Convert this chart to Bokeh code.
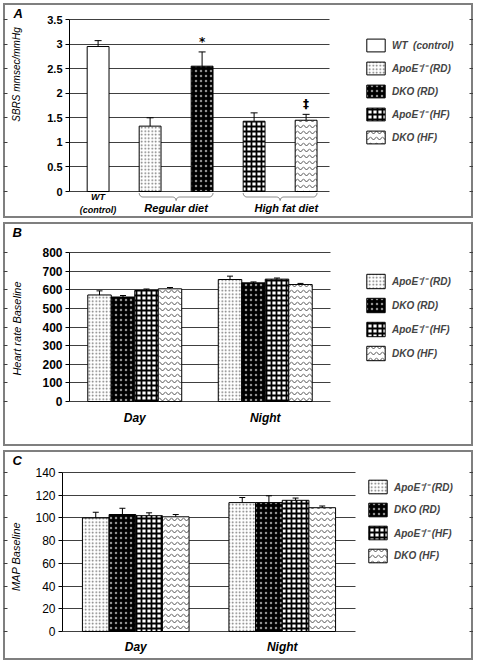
import numpy as np
from bokeh.plotting import figure
from bokeh.models import (ColumnDataSource, Range1d, Whisker, TeeHead, BoxAnnotation,
                          Legend, LegendItem, Label, PolyAnnotation, NumeralTickFormatter, FixedTicker)
from bokeh.layouts import column
from bokeh.embed import file_html
from bokeh.resources import INLINE

FONT = "Liberation Sans"

# ---------------- data ----------------
# Panel A : SBRS
a_keys = ["WT", "ApoE_RD", "DKO_RD", "ApoE_HF", "DKO_HF"]
a_legend = ["WT  (control)", "ApoE\u207b/\u207b (RD)", "DKO (RD)", "ApoE\u207b/\u207b (HF)", "DKO (HF)"]
a_values = [2.95, 1.33, 2.55, 1.43, 1.45]
a_errors = [0.12, 0.17, 0.29, 0.17, 0.12]
a_ticks = [0, 0.5, 1, 1.5, 2, 2.5, 3, 3.5]
a_marks = ["", "", "*", "", "\u2021"]
a_groups = {"Regular diet": [1, 2], "High fat diet": [3, 4]}

# Panels B, C
periods = ["Day", "Night"]
bc_keys = ["ApoE_RD", "DKO_RD", "ApoE_HF", "DKO_HF"]
bc_legend = ["ApoE\u207b/\u207b (RD)", "DKO (RD)", "ApoE\u207b/\u207b (HF)", "DKO (HF)"]

hr_values = {"ApoE_RD": [572, 655], "DKO_RD": [561, 637], "ApoE_HF": [596, 657], "DKO_HF": [605, 628]}
hr_errors = {"ApoE_RD": [22, 18], "DKO_RD": [8, 5], "ApoE_HF": [8, 6], "DKO_HF": [7, 6]}
hr_ticks = [0, 100, 200, 300, 400, 500, 600, 700, 800]

map_values = {"ApoE_RD": [100, 113.5], "DKO_RD": [103, 113.5], "ApoE_HF": [102, 115.5], "DKO_HF": [101, 109]}
map_errors = {"ApoE_RD": [5, 4.5], "DKO_RD": [5.5, 6], "ApoE_HF": [2.5, 2], "DKO_HF": [2, 1.5]}
map_ticks = [0, 20, 40, 60, 80, 100, 120, 140]

# ---------------- styles ----------------
STYLE = {
    "WT": dict(fill_color="white"),
    "ApoE_RD": dict(fill_color="white", hatch_pattern="dot", hatch_color="#707070", hatch_scale=3.5, hatch_weight=0.8),
    "DKO_RD": dict(fill_color="black", hatch_pattern="dot", hatch_color="#909090", hatch_scale=5, hatch_weight=0.4),
    "ApoE_HF": dict(fill_color="white", hatch_pattern="cross", hatch_color="black", hatch_scale=5, hatch_weight=1.8),
    "DKO_HF": dict(fill_color="white", hatch_pattern="horizontal_wave", hatch_color="#505050", hatch_scale=6, hatch_weight=1),
}
GRID = "#404040"
PANEL_W = 470


class Geo:
    """pixel <-> data mapping for a panel whose frame covers the whole panel"""

    def __init__(self, H, axis_px, data_px, n_units, x0, top_px, zero_px, ymax):
        self.kx = n_units / data_px
        self.ky = ymax / (zero_px - top_px)
        self.x_start = x0 - axis_px * self.kx
        self.x_end = self.x_start + PANEL_W * self.kx
        self.y_start = -(H - zero_px) * self.ky
        self.y_end = ymax + top_px * self.ky
        self.x0, self.n, self.ymax, self.H = x0, n_units, ymax, H

    def X(self, px):
        return self.x_start + px * self.kx

    def Y(self, py):
        return self.y_end - py * self.ky


def base_figure(g, ticks, size, weight):
    p = figure(width=PANEL_W, height=g.H, x_range=Range1d(g.x_start, g.x_end),
               y_range=Range1d(g.y_start, g.y_end), output_backend="svg", toolbar_location=None,
               min_border_left=0, min_border_right=0, min_border_top=0, min_border_bottom=0)
    p.outline_line_color = "#7f7f7f"
    p.outline_line_width = 3
    ax = p.yaxis[0]
    ax.fixed_location = g.x0
    ax.bounds = (0, g.ymax)
    ax.ticker = ticks
    ax.major_label_text_font = FONT
    ax.major_label_text_font_size = size
    ax.major_label_text_font_style = weight
    ax.major_label_text_color = "black"
    ax.axis_line_color = "black"
    ax.major_tick_line_color = "black"
    ax.major_tick_out = 4
    ax.major_tick_in = 0
    ax.minor_tick_line_color = None
    ax.major_label_standoff = 3
    p.ygrid.ticker = ticks
    p.ygrid.grid_line_color = GRID
    p.xgrid.grid_line_color = None
    # keep the grid inside the data area
    pad = 4 * g.kx
    yb = 0.02 * g.ymax
    p.add_layout(BoxAnnotation(left=g.x_start + pad, right=g.x0, bottom=-yb, top=g.ymax + yb,
                               fill_color="white", fill_alpha=1, line_alpha=0, level="underlay"))
    p.add_layout(BoxAnnotation(left=g.x0 + g.n, right=g.x_end - pad, bottom=-yb, top=g.ymax + yb,
                               fill_color="white", fill_alpha=1, line_alpha=0, level="underlay"))
    return p


def make_legend(items, loc, gh, spacing):
    return Legend(items=items, location=loc, glyph_width=23, glyph_height=gh, spacing=spacing,
                  label_standoff=5, padding=0, margin=0, border_line_color=None,
                  background_fill_alpha=0, label_text_font=FONT, label_text_font_style="bold italic",
                  label_text_font_size="10px", label_height=gh)


def text(p, x, y, s, size, style, align="center", angle=0.0, baseline="middle", font=FONT):
    p.add_layout(Label(x=x, y=y, text=s, text_align=align, text_baseline=baseline, angle=angle,
                       text_font=font, text_font_size=size, text_font_style=style, text_color="black"))


# ---------------- Panel A ----------------
a_n = len(a_keys)
gA = Geo(H=215, axis_px=66, data_px=260, n_units=a_n, x0=-0.05, top_px=16, zero_px=188, ymax=3.5)
pA = base_figure(gA, a_ticks, "11px", "bold")
pA.xaxis.visible = False
pA.yaxis.formatter = NumeralTickFormatter(format="0.[0]")

a_x = np.arange(a_n) + 0.5
itemsA = []
for i, k in enumerate(a_keys):
    src = ColumnDataSource(dict(x=[a_x[i]], top=[a_values[i]],
                                upper=[a_values[i] + a_errors[i]], lower=[a_values[i] - a_errors[i]]))
    r = pA.vbar(x="x", top="top", width=0.42, source=src, line_color="black", line_width=1, **STYLE[k])
    pA.add_layout(Whisker(source=src, base="x", upper="upper", lower="lower", line_color="black",
                          upper_head=TeeHead(size=7, line_color="black"),
                          lower_head=TeeHead(size=7, line_color="black")))
    itemsA.append(LegendItem(label=a_legend[i], renderers=[r]))
    if a_marks[i]:
        text(pA, a_x[i], a_values[i] + a_errors[i] + 0.06, a_marks[i], "12px", "bold",
             baseline="bottom", font="DejaVu Sans")

pA.add_layout(make_legend(itemsA, (361, 73), 16, 7))

text(pA, a_x[0], gA.Y(193), "WT", "9px", "bold italic")
text(pA, a_x[0], gA.Y(206.5), "(control)", "9px", "bold italic")
for name, idx in a_groups.items():
    cx = float(np.mean(a_x[idx]))
    shift = 0.12 if name.startswith("High") else 0.0
    text(pA, cx + shift, gA.Y(204), name, "11px", "bold italic")
    # curly brace under the group
    hw, r_ = 0.71, 0.07
    y0, y1, y2 = gA.Y(189.5), gA.Y(193.5), gA.Y(197)
    t = np.linspace(0, np.pi / 2, 7)
    left = [(cx - hw + r_ * (1 - np.cos(a)), y0 + (y1 - y0) * np.sin(a)) for a in t]
    midl = [(cx - r_ + r_ * np.sin(a), y1 + (y2 - y1) * (1 - np.cos(a))) for a in t]
    midr = [(cx + r_ * (1 - np.cos(a)), y2 + (y1 - y2) * np.sin(a)) for a in t]
    right = [(cx + hw - r_ + r_ * np.sin(a), y1 + (y0 - y1) * (1 - np.cos(a))) for a in t]
    pts = left + midl + midr + right
    xs = [q[0] for q in pts] + [q[0] for q in pts[::-1]]
    ys = [q[1] for q in pts] + [q[1] for q in pts[::-1]]
    pA.add_layout(PolyAnnotation(xs=xs, ys=ys, fill_alpha=0, line_color="#333333", line_width=1))

text(pA, gA.X(13), gA.Y(71), "SBRS mmsec/mmHg", "10px", "italic", angle=np.pi / 2)
text(pA, gA.X(10), gA.Y(10), "A", "13px", "bold italic", align="left")


# ---------------- Panels B and C ----------------
def grouped_panel(g, ticks, vals, errs, ylabel, letter, legend_loc, gh, sp,
                  tick_size, tick_weight, bar_w, label_px, letter_px, xstandoff):
    p = base_figure(g, ticks, tick_size, tick_weight)
    n = len(periods)
    centers = np.arange(n) + 0.5
    xa = p.xaxis[0]
    xa.fixed_location = 0
    xa.ticker = FixedTicker(ticks=list(centers))
    xa.major_label_overrides = {float(c): lab for c, lab in zip(centers, periods)}
    xa.major_tick_line_color = None
    xa.minor_tick_line_color = None
    xa.axis_line_color = None
    xa.major_label_text_font = FONT
    xa.major_label_text_font_size = "12px"
    xa.major_label_text_font_style = "bold italic"
    xa.major_label_text_color = "black"
    xa.major_label_standoff = xstandoff
    offsets = (np.arange(len(bc_keys)) - (len(bc_keys) - 1) / 2) * bar_w
    items = []
    for j, k in enumerate(bc_keys):
        v = np.array(vals[k], dtype=float)
        e = np.array(errs[k], dtype=float)
        src = ColumnDataSource(dict(x=centers + offsets[j], top=v, upper=v + e, lower=v - e))
        r = p.vbar(x="x", top="top", width=bar_w, source=src, line_color="black", line_width=1, **STYLE[k])
        p.add_layout(Whisker(source=src, base="x", upper="upper", lower="lower", line_color="black",
                             upper_head=TeeHead(size=6, line_color="black"),
                             lower_head=TeeHead(size=6, line_color="black")))
        items.append(LegendItem(label=bc_legend[j], renderers=[r]))
    p.add_layout(make_legend(items, legend_loc, gh, sp))
    text(p, g.X(label_px[0]), g.Y(label_px[1]), ylabel, "11px", "italic", angle=np.pi / 2)
    text(p, g.X(letter_px[0]), g.Y(letter_px[1]), letter, "13px", "bold italic", align="left")
    return p


gB = Geo(H=224, axis_px=66, data_px=261, n_units=len(periods), x0=0, top_px=30, zero_px=179, ymax=800)
pB = grouped_panel(gB, hr_ticks, hr_values, hr_errors, "Heart rate Baseline", "B",
                   (361, 84), 18, 6, "12px", "bold", 0.18, (13, 106), (9, 10), 3)
gC = Geo(H=210, axis_px=59, data_px=293, n_units=len(periods), x0=0, top_px=22, zero_px=181, ymax=140)
pC = grouped_panel(gC, map_ticks, map_values, map_errors, "MAP Baseline", "C",
                   (363, 96), 17, 6, "12px", "normal", 0.182, (12, 106), (9, 10), 2)

layout = column(pA, pB, pC, spacing=4, styles={"margin-left": "3px", "margin-top": "3px"})
open("out.html", "w").write(file_html(layout, INLINE))
